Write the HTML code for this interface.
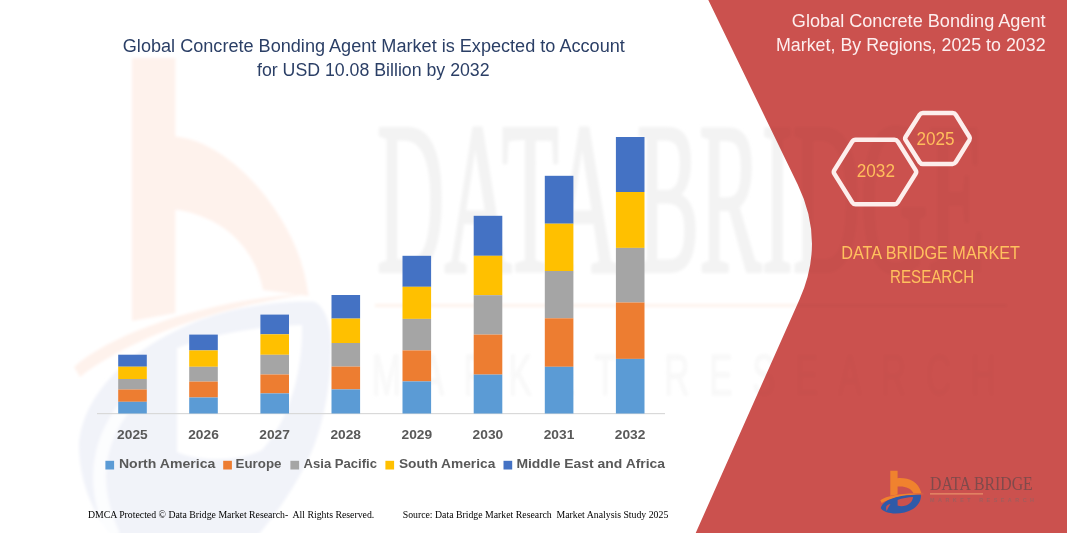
<!DOCTYPE html>
<html>
<head>
<meta charset="utf-8">
<title>Global Concrete Bonding Agent Market</title>
<style>
  html, body { margin: 0; padding: 0; background: #ffffff; }
  body { width: 1067px; height: 533px; overflow: hidden; font-family: "Liberation Sans", sans-serif; }
  svg { display: block; }
  .sans { font-family: "Liberation Sans", sans-serif; }
  .serif { font-family: "Liberation Serif", serif; }
</style>
</head>
<body>
<svg width="1067" height="533" viewBox="0 0 1067 533">
  <defs>
    <filter id="soft" x="-5%" y="-5%" width="110%" height="110%"><feGaussianBlur stdDeviation="1.5"/></filter>
    <filter id="soft2" x="-5%" y="-5%" width="110%" height="110%"><feGaussianBlur stdDeviation="0.4"/></filter>
  </defs>
  <rect x="0" y="0" width="1067" height="533" fill="#ffffff"/>
  <g filter="url(#soft)">
    <path d="M132,58 L175.4,58 L175.4,136.6 C215,140 262,180 290,235 C300,255 306,275 308.5,296 L263,290 C258,262 240,235 212,221 C200,215 188,211 175.4,209.7 L175.4,313 L132,321 Z" fill="#fef2ec"/>
    <path d="M74,367 C115,330 220,297 313,293.5 C235,303 135,334 80,377 Z" fill="#fef2ec"/>
    <path d="M79,445 C82,400 120,352 200,320 C240,306 280,301 312,301.5 C322,302 331,320 331,345 C331,390 322,425 314,446 C300,480 280,510 250,545 L118,545 C92,515 79,480 79,445 Z M177,348 C215,333 260,326 302,325 C303,370 290,420 262,450 C240,462 200,462 177,452 Z" fill="#f1f3f9" fill-rule="evenodd"/>
    <path d="M138,392 C105,425 84,472 114,536" fill="none" stroke="#ffffff" stroke-width="13" opacity="0.8"/>
  </g>
  <defs>
    <g id="wm">
      <text class="serif" x="377" y="271" font-size="216" textLength="608" lengthAdjust="spacingAndGlyphs" stroke-width="4" stroke-linejoin="round">DATA BRIDGE</text>
      <text class="sans" transform="translate(372,394.5) scale(0.6,1)" x="0" y="0" font-size="58" textLength="1040" lengthAdjust="spacing" opacity="0.6">MARKET RESEARCH</text>
    </g>
    <clipPath id="pc"><path d="M708.3,0 L797.7,184.6 Q825.3,241.7 799.5,299.6 L695.7,533 L1067,533 L1067,0 Z"/></clipPath>
  </defs>
  <g filter="url(#soft)">
    <use href="#wm" fill="#f3f3f3" stroke="#f3f3f3"/>
    <rect x="375" y="304" width="640" height="3" fill="#fdf3ec"/>
  </g>
  <path d="M708.3,0 L797.7,184.6 Q825.3,241.7 799.5,299.6 L695.7,533 L1067,533 L1067,0 Z" fill="#cb514e"/>
  <g clip-path="url(#pc)" filter="url(#soft)" opacity="0.022">
    <use href="#wm" fill="#000000" stroke="#000000"/>
    <rect x="375" y="304" width="632" height="3" fill="#000000"/>
  </g>
  <rect x="97" y="413" width="568" height="1.2" fill="#d9d9d9"/>
  <g>
    <rect x="118.2" y="354.7" width="28.6" height="12.0" fill="#4472c4"/>
    <rect x="118.2" y="366.7" width="28.6" height="12.3" fill="#ffc000"/>
    <rect x="118.2" y="379.0" width="28.6" height="10.5" fill="#a5a5a5"/>
    <rect x="118.2" y="389.5" width="28.6" height="12.3" fill="#ed7d31"/>
    <rect x="118.2" y="401.8" width="28.6" height="11.7" fill="#5b9bd5"/>
    <rect x="189.2" y="334.6" width="28.6" height="15.8" fill="#4472c4"/>
    <rect x="189.2" y="350.4" width="28.6" height="16.4" fill="#ffc000"/>
    <rect x="189.2" y="366.8" width="28.6" height="14.8" fill="#a5a5a5"/>
    <rect x="189.2" y="381.6" width="28.6" height="15.9" fill="#ed7d31"/>
    <rect x="189.2" y="397.5" width="28.6" height="16.0" fill="#5b9bd5"/>
    <rect x="260.4" y="314.6" width="28.6" height="19.7" fill="#4472c4"/>
    <rect x="260.4" y="334.3" width="28.6" height="20.5" fill="#ffc000"/>
    <rect x="260.4" y="354.8" width="28.6" height="19.7" fill="#a5a5a5"/>
    <rect x="260.4" y="374.5" width="28.6" height="18.9" fill="#ed7d31"/>
    <rect x="260.4" y="393.4" width="28.6" height="20.1" fill="#5b9bd5"/>
    <rect x="331.5" y="295.0" width="28.6" height="23.6" fill="#4472c4"/>
    <rect x="331.5" y="318.6" width="28.6" height="24.4" fill="#ffc000"/>
    <rect x="331.5" y="343.0" width="28.6" height="23.6" fill="#a5a5a5"/>
    <rect x="331.5" y="366.6" width="28.6" height="22.8" fill="#ed7d31"/>
    <rect x="331.5" y="389.4" width="28.6" height="24.1" fill="#5b9bd5"/>
    <rect x="402.5" y="255.8" width="28.6" height="31.0" fill="#4472c4"/>
    <rect x="402.5" y="286.8" width="28.6" height="32.1" fill="#ffc000"/>
    <rect x="402.5" y="318.9" width="28.6" height="31.5" fill="#a5a5a5"/>
    <rect x="402.5" y="350.4" width="28.6" height="31.0" fill="#ed7d31"/>
    <rect x="402.5" y="381.4" width="28.6" height="32.1" fill="#5b9bd5"/>
    <rect x="473.7" y="215.8" width="28.6" height="40.0" fill="#4472c4"/>
    <rect x="473.7" y="255.8" width="28.6" height="39.4" fill="#ffc000"/>
    <rect x="473.7" y="295.2" width="28.6" height="39.4" fill="#a5a5a5"/>
    <rect x="473.7" y="334.6" width="28.6" height="40.0" fill="#ed7d31"/>
    <rect x="473.7" y="374.6" width="28.6" height="38.9" fill="#5b9bd5"/>
    <rect x="544.8" y="175.8" width="28.6" height="47.9" fill="#4472c4"/>
    <rect x="544.8" y="223.7" width="28.6" height="47.3" fill="#ffc000"/>
    <rect x="544.8" y="271.0" width="28.6" height="47.3" fill="#a5a5a5"/>
    <rect x="544.8" y="318.3" width="28.6" height="48.5" fill="#ed7d31"/>
    <rect x="544.8" y="366.8" width="28.6" height="46.7" fill="#5b9bd5"/>
    <rect x="615.9" y="137.0" width="28.6" height="55.0" fill="#4472c4"/>
    <rect x="615.9" y="192.0" width="28.6" height="55.9" fill="#ffc000"/>
    <rect x="615.9" y="247.9" width="28.6" height="54.6" fill="#a5a5a5"/>
    <rect x="615.9" y="302.5" width="28.6" height="56.4" fill="#ed7d31"/>
    <rect x="615.9" y="358.9" width="28.6" height="54.6" fill="#5b9bd5"/>
  </g>
  <g class="sans" font-weight="bold" font-size="13.5" fill="#595959" text-anchor="middle">
    <text x="132.4" y="438.8" textLength="30.6" lengthAdjust="spacingAndGlyphs">2025</text>
    <text x="203.5" y="438.8" textLength="30.6" lengthAdjust="spacingAndGlyphs">2026</text>
    <text x="274.6" y="438.8" textLength="30.6" lengthAdjust="spacingAndGlyphs">2027</text>
    <text x="345.7" y="438.8" textLength="30.6" lengthAdjust="spacingAndGlyphs">2028</text>
    <text x="416.8" y="438.8" textLength="30.6" lengthAdjust="spacingAndGlyphs">2029</text>
    <text x="487.9" y="438.8" textLength="30.6" lengthAdjust="spacingAndGlyphs">2030</text>
    <text x="559.0" y="438.8" textLength="30.6" lengthAdjust="spacingAndGlyphs">2031</text>
    <text x="630.1" y="438.8" textLength="30.6" lengthAdjust="spacingAndGlyphs">2032</text>
  </g>
  <g class="sans" font-weight="bold" font-size="13.6" fill="#595959">
    <rect x="105.4" y="460.8" width="8.7" height="8.7" fill="#5b9bd5"/>
    <text x="118.9" y="468.3" textLength="96.4" lengthAdjust="spacingAndGlyphs">North America</text>
    <rect x="223.2" y="460.8" width="8.7" height="8.7" fill="#ed7d31"/>
    <text x="235.6" y="468.3" textLength="45.8" lengthAdjust="spacingAndGlyphs">Europe</text>
    <rect x="290.4" y="460.8" width="8.7" height="8.7" fill="#a5a5a5"/>
    <text x="303.6" y="468.3" textLength="73.4" lengthAdjust="spacingAndGlyphs">Asia Pacific</text>
    <rect x="385.4" y="460.8" width="8.7" height="8.7" fill="#ffc000"/>
    <text x="398.9" y="468.3" textLength="96.4" lengthAdjust="spacingAndGlyphs">South America</text>
    <rect x="503.5" y="460.8" width="8.7" height="8.7" fill="#4472c4"/>
    <text x="516.4" y="468.3" textLength="148.7" lengthAdjust="spacingAndGlyphs">Middle East and Africa</text>
  </g>
  <g class="sans" font-size="18" fill="#2b3f66">
    <text x="122.8" y="52.2" textLength="502" lengthAdjust="spacingAndGlyphs">Global Concrete Bonding Agent Market is Expected to Account</text>
    <text x="257" y="75.8" textLength="232.6" lengthAdjust="spacingAndGlyphs">for USD 10.08 Billion by 2032</text>
  </g>
  <g class="sans" font-size="19" fill="#fdeeee">
    <text x="791.8" y="27.4" textLength="253.8" lengthAdjust="spacingAndGlyphs">Global Concrete Bonding Agent</text>
    <text x="776" y="51.3" textLength="269.6" lengthAdjust="spacingAndGlyphs">Market, By Regions, 2025 to 2032</text>
  </g>
  <g fill="none" stroke="#fdeeec" stroke-width="4.5" stroke-linejoin="round">
    <path d="M834.4,173.9 Q833.2,172.0 834.4,170.1 L852.2,141.6 Q853.4,139.7 855.6,139.7 L894.4,139.7 Q896.6,139.7 897.8,141.6 L915.6,170.1 Q916.8,172.0 915.6,173.9 L897.8,202.4 Q896.6,204.3 894.4,204.3 L855.6,204.3 Q853.4,204.3 852.2,202.4 Z"/>
    <path d="M905.7,140.1 Q904.6,138.4 905.7,136.7 L919.7,114.6 Q920.8,112.9 922.8,112.9 L952.7,112.9 Q954.7,112.9 955.7,114.6 L969.4,136.7 Q970.4,138.4 969.4,140.1 L955.7,162.2 Q954.7,163.9 952.7,163.9 L922.8,163.9 Q920.8,163.9 919.7,162.2 Z"/>
  </g>
  <g class="sans" font-size="18.4" fill="#ffbe5c">
    <text x="856.7" y="176.6" textLength="38.3" lengthAdjust="spacingAndGlyphs">2032</text>
    <text x="916.4" y="145" textLength="38.1" lengthAdjust="spacingAndGlyphs">2025</text>
  </g>
  <g class="sans" font-size="18" fill="#ffc15e">
    <text x="841.2" y="259" textLength="178.8" lengthAdjust="spacingAndGlyphs">DATA BRIDGE MARKET</text>
    <text x="890" y="282.7" textLength="84.2" lengthAdjust="spacingAndGlyphs">RESEARCH</text>
  </g>
  <g class="serif" font-size="10" fill="#000000">
    <text x="87.9" y="517.7" textLength="286.4" lengthAdjust="spacingAndGlyphs" xml:space="preserve">DMCA Protected © Data Bridge Market Research-  All Rights Reserved.</text>
    <text x="402.7" y="517.7" textLength="265.6" lengthAdjust="spacingAndGlyphs" xml:space="preserve">Source: Data Bridge Market Research  Market Analysis Study 2025</text>
  </g>
  <g id="logo">
    <path d="M890.3,470.8 L897.6,470.8 L897.6,478.2 C908,477.5 918,481 921.3,492.9 L913.5,493.3 C911,488 905,486 897.6,486.6 L897.6,494.5 L890.3,495.8 Z" fill="#f0822e"/>
    <path d="M880.3,500.2 C888,495.3 905,492.6 924.4,493.9 C905,494.8 890,497.8 881.7,503 Z" fill="#f0822e"/>
    <path d="M880.8,508.1 C882,503 888,499.4 896,497.2 C905,495 913,494.5 920.9,494.8 C921.3,500 919,505 913,509 C907,512.5 899,514 893,513.4 C887,513 882,511 880.8,508.1 Z M897.6,499.9 C902,498.2 908,497.2 912.9,497 C913,500 911,503.5 906,505.5 C902.5,506.5 899.5,506.3 897.6,505.5 Z M886.3,506.5 C887.3,505 888.8,504.2 890.5,504 C889,506 887.5,509 886.8,511 C886,509.5 886,508 886.3,506.5 Z" fill="#2f5aa8" fill-rule="evenodd"/>
    <g class="serif" fill="#7f4a4b">
      <text x="930" y="490.4" font-size="19" textLength="102.7" lengthAdjust="spacingAndGlyphs">DATA BRIDGE</text>
    </g>
    <rect x="930" y="493.4" width="53" height="1" fill="#f0a070"/>
    <g class="sans" fill="#a25d5c" font-weight="bold">
      <text x="930" y="502.2" font-size="5.4" textLength="104" lengthAdjust="spacing">MARKET RESEARCH</text>
    </g>
  </g>
</svg>
</body>
</html>
